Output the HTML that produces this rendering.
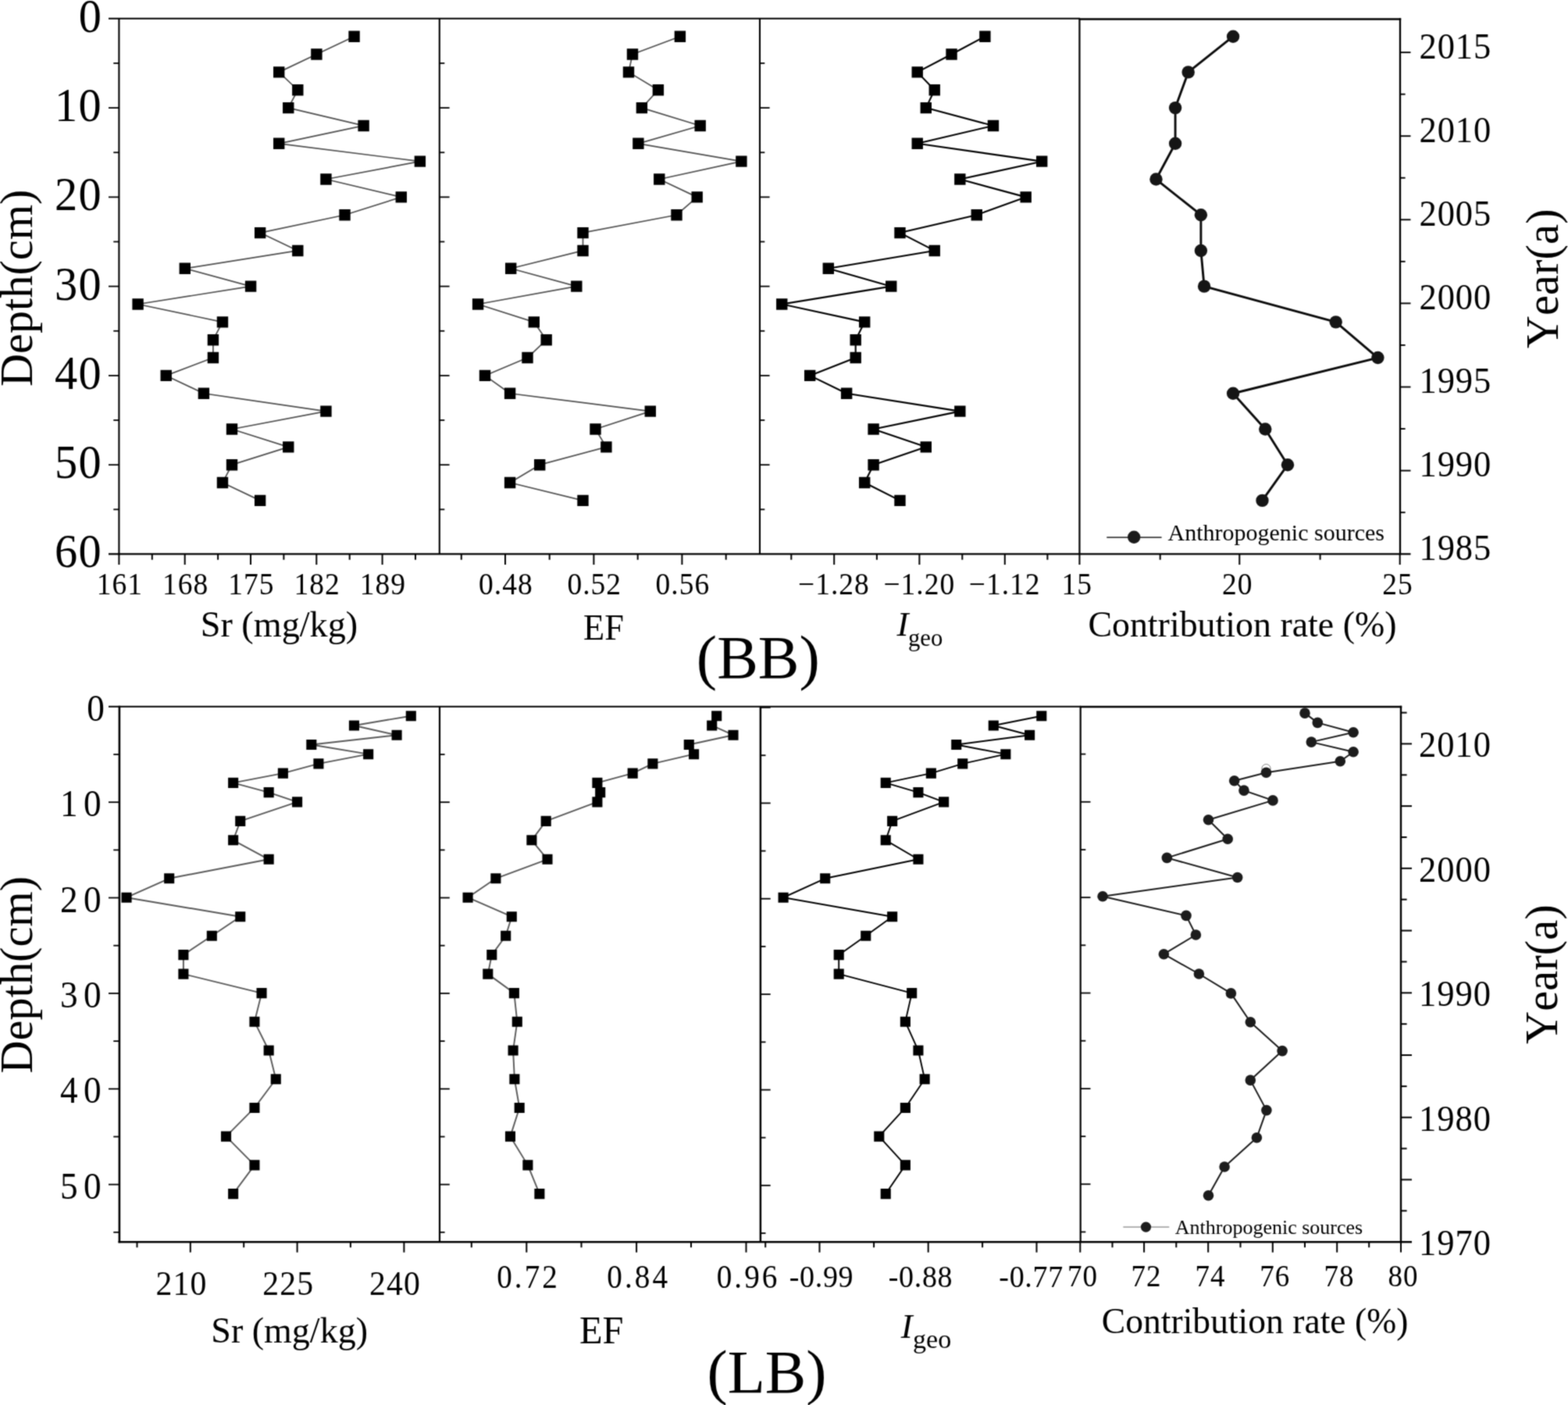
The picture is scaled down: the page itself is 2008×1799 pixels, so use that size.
<!DOCTYPE html>
<html lang="en">
<head>
<meta charset="utf-8">
<title>Sr depth profiles (BB, LB)</title>
<style>
html,body{margin:0;padding:0;background:#fff;}
body{width:2008px;height:1799px;overflow:hidden;}
svg{display:block;}
svg text{font-family:"Liberation Serif","DejaVu Serif",serif;fill:#000;font-kerning:none;white-space:pre;}
</style>
</head>
<body>
<svg width="2008" height="1799" viewBox="0 0 2008 1799">
<defs><filter id="soft" x="0" y="0" width="2008" height="1799" filterUnits="userSpaceOnUse" color-interpolation-filters="sRGB"><feConvolveMatrix order="3" kernelMatrix="0.0361 0.1178 0.0361 0.1178 0.3846 0.1178 0.0361 0.1178 0.0361" divisor="1" edgeMode="duplicate" preserveAlpha="true"/></filter></defs>
<g filter="url(#soft)">
<rect x="0" y="0" width="2008" height="1799" fill="#fff"/>
<g id="bb-axes">
<line x1="139" y1="23.85" x2="1383" y2="23.85" stroke="#000" stroke-width="2"/>
<line x1="1382" y1="24.5" x2="1794.2" y2="24.5" stroke="#000" stroke-width="2.6"/>
<line x1="139" y1="709.45" x2="1806.5" y2="709.45" stroke="#000" stroke-width="2.2"/>
<line x1="152.4" y1="22.95" x2="152.4" y2="710.35" stroke="#000" stroke-width="2.1"/>
<line x1="562.8" y1="23.85" x2="562.8" y2="709.45" stroke="#000" stroke-width="2.1"/>
<line x1="973" y1="23.85" x2="973" y2="709.45" stroke="#000" stroke-width="2.1"/>
<line x1="1382.45" y1="23.85" x2="1382.45" y2="709.45" stroke="#000" stroke-width="2.2"/>
<line x1="1793" y1="23.25" x2="1793" y2="710.35" stroke="#000" stroke-width="2.3"/>
<line x1="139" y1="138.1" x2="152.4" y2="138.1" stroke="#000" stroke-width="1.8"/>
<line x1="139" y1="252.37" x2="152.4" y2="252.37" stroke="#000" stroke-width="1.8"/>
<line x1="139" y1="366.64" x2="152.4" y2="366.64" stroke="#000" stroke-width="1.8"/>
<line x1="139" y1="480.91" x2="152.4" y2="480.91" stroke="#000" stroke-width="1.8"/>
<line x1="139" y1="595.18" x2="152.4" y2="595.18" stroke="#000" stroke-width="1.8"/>
<line x1="145.3" y1="80.97" x2="152.4" y2="80.97" stroke="#000" stroke-width="1.8"/>
<line x1="145.3" y1="195.24" x2="152.4" y2="195.24" stroke="#000" stroke-width="1.8"/>
<line x1="145.3" y1="309.5" x2="152.4" y2="309.5" stroke="#000" stroke-width="1.8"/>
<line x1="145.3" y1="423.77" x2="152.4" y2="423.77" stroke="#000" stroke-width="1.8"/>
<line x1="145.3" y1="538.05" x2="152.4" y2="538.05" stroke="#000" stroke-width="1.8"/>
<line x1="145.3" y1="652.32" x2="152.4" y2="652.32" stroke="#000" stroke-width="1.8"/>
<line x1="563" y1="138.1" x2="575.6" y2="138.1" stroke="#000" stroke-width="1.8"/>
<line x1="563" y1="252.37" x2="575.6" y2="252.37" stroke="#000" stroke-width="1.8"/>
<line x1="563" y1="366.64" x2="575.6" y2="366.64" stroke="#000" stroke-width="1.8"/>
<line x1="563" y1="480.91" x2="575.6" y2="480.91" stroke="#000" stroke-width="1.8"/>
<line x1="563" y1="595.18" x2="575.6" y2="595.18" stroke="#000" stroke-width="1.8"/>
<line x1="563" y1="80.97" x2="569.3" y2="80.97" stroke="#000" stroke-width="1.8"/>
<line x1="563" y1="195.24" x2="569.3" y2="195.24" stroke="#000" stroke-width="1.8"/>
<line x1="563" y1="309.5" x2="569.3" y2="309.5" stroke="#000" stroke-width="1.8"/>
<line x1="563" y1="423.77" x2="569.3" y2="423.77" stroke="#000" stroke-width="1.8"/>
<line x1="563" y1="538.05" x2="569.3" y2="538.05" stroke="#000" stroke-width="1.8"/>
<line x1="563" y1="652.32" x2="569.3" y2="652.32" stroke="#000" stroke-width="1.8"/>
<line x1="973" y1="138.1" x2="985.6" y2="138.1" stroke="#000" stroke-width="1.8"/>
<line x1="973" y1="252.37" x2="985.6" y2="252.37" stroke="#000" stroke-width="1.8"/>
<line x1="973" y1="366.64" x2="985.6" y2="366.64" stroke="#000" stroke-width="1.8"/>
<line x1="973" y1="480.91" x2="985.6" y2="480.91" stroke="#000" stroke-width="1.8"/>
<line x1="973" y1="595.18" x2="985.6" y2="595.18" stroke="#000" stroke-width="1.8"/>
<line x1="973" y1="80.97" x2="979.3" y2="80.97" stroke="#000" stroke-width="1.8"/>
<line x1="973" y1="195.24" x2="979.3" y2="195.24" stroke="#000" stroke-width="1.8"/>
<line x1="973" y1="309.5" x2="979.3" y2="309.5" stroke="#000" stroke-width="1.8"/>
<line x1="973" y1="423.77" x2="979.3" y2="423.77" stroke="#000" stroke-width="1.8"/>
<line x1="973" y1="538.05" x2="979.3" y2="538.05" stroke="#000" stroke-width="1.8"/>
<line x1="973" y1="652.32" x2="979.3" y2="652.32" stroke="#000" stroke-width="1.8"/>
<line x1="1793" y1="602.6" x2="1806.5" y2="602.6" stroke="#000" stroke-width="1.9"/>
<line x1="1793" y1="495.5" x2="1806.5" y2="495.5" stroke="#000" stroke-width="1.9"/>
<line x1="1793" y1="388.4" x2="1806.5" y2="388.4" stroke="#000" stroke-width="1.9"/>
<line x1="1793" y1="281.3" x2="1806.5" y2="281.3" stroke="#000" stroke-width="1.9"/>
<line x1="1793" y1="174.2" x2="1806.5" y2="174.2" stroke="#000" stroke-width="1.9"/>
<line x1="1793" y1="67.1" x2="1806.5" y2="67.1" stroke="#000" stroke-width="1.9"/>
<line x1="1793" y1="120.65" x2="1799.6" y2="120.65" stroke="#000" stroke-width="1.9"/>
<line x1="1793" y1="227.75" x2="1799.6" y2="227.75" stroke="#000" stroke-width="1.9"/>
<line x1="1793" y1="334.85" x2="1799.6" y2="334.85" stroke="#000" stroke-width="1.9"/>
<line x1="1793" y1="441.95" x2="1799.6" y2="441.95" stroke="#000" stroke-width="1.9"/>
<line x1="1793" y1="549.05" x2="1799.6" y2="549.05" stroke="#000" stroke-width="1.9"/>
<line x1="1793" y1="656.15" x2="1799.6" y2="656.15" stroke="#000" stroke-width="1.9"/>
<line x1="152.4" y1="709.45" x2="152.4" y2="723.05" stroke="#000" stroke-width="2"/>
<line x1="236.7" y1="709.45" x2="236.7" y2="723.05" stroke="#000" stroke-width="2"/>
<line x1="321" y1="709.45" x2="321" y2="723.05" stroke="#000" stroke-width="2"/>
<line x1="405.3" y1="709.45" x2="405.3" y2="723.05" stroke="#000" stroke-width="2"/>
<line x1="489.6" y1="709.45" x2="489.6" y2="723.05" stroke="#000" stroke-width="2"/>
<line x1="647" y1="709.45" x2="647" y2="723.05" stroke="#000" stroke-width="2"/>
<line x1="760.4" y1="709.45" x2="760.4" y2="723.05" stroke="#000" stroke-width="2"/>
<line x1="873.4" y1="709.45" x2="873.4" y2="723.05" stroke="#000" stroke-width="2"/>
<line x1="1068.2" y1="709.45" x2="1068.2" y2="723.05" stroke="#000" stroke-width="2"/>
<line x1="1177.4" y1="709.45" x2="1177.4" y2="723.05" stroke="#000" stroke-width="2"/>
<line x1="1286.8" y1="709.45" x2="1286.8" y2="723.05" stroke="#000" stroke-width="2"/>
<line x1="1382.45" y1="709.45" x2="1382.45" y2="723.05" stroke="#000" stroke-width="2"/>
<line x1="1587.3" y1="709.45" x2="1587.3" y2="723.05" stroke="#000" stroke-width="2"/>
<line x1="1792.7" y1="709.45" x2="1792.7" y2="723.05" stroke="#000" stroke-width="2"/>
<line x1="194.8" y1="709.45" x2="194.8" y2="716.75" stroke="#000" stroke-width="2"/>
<line x1="279.1" y1="709.45" x2="279.1" y2="716.75" stroke="#000" stroke-width="2"/>
<line x1="363.4" y1="709.45" x2="363.4" y2="716.75" stroke="#000" stroke-width="2"/>
<line x1="447.7" y1="709.45" x2="447.7" y2="716.75" stroke="#000" stroke-width="2"/>
<line x1="532" y1="709.45" x2="532" y2="716.75" stroke="#000" stroke-width="2"/>
<line x1="590.8" y1="709.45" x2="590.8" y2="716.75" stroke="#000" stroke-width="2"/>
<line x1="703.7" y1="709.45" x2="703.7" y2="716.75" stroke="#000" stroke-width="2"/>
<line x1="816.7" y1="709.45" x2="816.7" y2="716.75" stroke="#000" stroke-width="2"/>
<line x1="929.7" y1="709.45" x2="929.7" y2="716.75" stroke="#000" stroke-width="2"/>
<line x1="1013.3" y1="709.45" x2="1013.3" y2="716.75" stroke="#000" stroke-width="2"/>
<line x1="1122.9" y1="709.45" x2="1122.9" y2="716.75" stroke="#000" stroke-width="2"/>
<line x1="1232.3" y1="709.45" x2="1232.3" y2="716.75" stroke="#000" stroke-width="2"/>
<line x1="1341.4" y1="709.45" x2="1341.4" y2="716.75" stroke="#000" stroke-width="2"/>
<line x1="1485.7" y1="709.45" x2="1485.7" y2="716.75" stroke="#000" stroke-width="2"/>
<line x1="1690.6" y1="709.45" x2="1690.6" y2="716.75" stroke="#000" stroke-width="2"/>
</g>
<g id="bb-data">
<polyline points="453.57,46.68 405.4,69.54 357.23,92.39 381.32,115.25 369.27,138.1 465.62,160.95 357.23,183.81 537.88,206.66 417.45,229.52 513.79,252.37 441.53,275.22 333.14,298.08 381.32,320.93 236.8,343.79 321.1,366.64 176.59,389.49 284.97,412.35 272.93,435.2 272.93,458.06 212.72,480.91 260.89,503.76 417.45,526.62 297.02,549.47 369.27,572.33 297.02,595.18 284.97,618.03 333.14,640.89" fill="none" stroke="#4e4e4e" stroke-width="1.7" stroke-linejoin="round"/>
<path d="M446.38 39.48h14.4v14.4h-14.4zM398.2 62.34h14.4v14.4h-14.4zM350.03 85.19h14.4v14.4h-14.4zM374.12 108.05h14.4v14.4h-14.4zM362.07 130.9h14.4v14.4h-14.4zM458.42 153.75h14.4v14.4h-14.4zM350.03 176.61h14.4v14.4h-14.4zM530.68 199.46h14.4v14.4h-14.4zM410.25 222.32h14.4v14.4h-14.4zM506.59 245.17h14.4v14.4h-14.4zM434.33 268.02h14.4v14.4h-14.4zM325.94 290.88h14.4v14.4h-14.4zM374.12 313.73h14.4v14.4h-14.4zM229.6 336.59h14.4v14.4h-14.4zM313.9 359.44h14.4v14.4h-14.4zM169.39 382.29h14.4v14.4h-14.4zM277.77 405.15h14.4v14.4h-14.4zM265.73 428h14.4v14.4h-14.4zM265.73 450.86h14.4v14.4h-14.4zM205.52 473.71h14.4v14.4h-14.4zM253.69 496.56h14.4v14.4h-14.4zM410.25 519.42h14.4v14.4h-14.4zM289.82 542.27h14.4v14.4h-14.4zM362.07 565.13h14.4v14.4h-14.4zM289.82 587.98h14.4v14.4h-14.4zM277.77 610.83h14.4v14.4h-14.4zM325.94 633.69h14.4v14.4h-14.4z" fill="#000"/>
<polyline points="870.9,46.68 810,69.54 805,92.39 842.9,115.25 821.9,138.1 896.7,160.95 817.4,183.81 949.4,206.66 844.3,229.52 892.7,252.37 866.5,275.22 746.5,298.08 746.5,320.93 654.2,343.79 738.3,366.64 612.1,389.49 683.8,412.35 699.7,435.2 675.5,458.06 621,480.91 653.1,503.76 832.8,526.62 762.5,549.47 776.4,572.33 691.2,595.18 653.1,618.03 746.5,640.89" fill="none" stroke="#4e4e4e" stroke-width="1.7" stroke-linejoin="round"/>
<path d="M863.7 39.48h14.4v14.4h-14.4zM802.8 62.34h14.4v14.4h-14.4zM797.8 85.19h14.4v14.4h-14.4zM835.7 108.05h14.4v14.4h-14.4zM814.7 130.9h14.4v14.4h-14.4zM889.5 153.75h14.4v14.4h-14.4zM810.2 176.61h14.4v14.4h-14.4zM942.2 199.46h14.4v14.4h-14.4zM837.1 222.32h14.4v14.4h-14.4zM885.5 245.17h14.4v14.4h-14.4zM859.3 268.02h14.4v14.4h-14.4zM739.3 290.88h14.4v14.4h-14.4zM739.3 313.73h14.4v14.4h-14.4zM647 336.59h14.4v14.4h-14.4zM731.1 359.44h14.4v14.4h-14.4zM604.9 382.29h14.4v14.4h-14.4zM676.6 405.15h14.4v14.4h-14.4zM692.5 428h14.4v14.4h-14.4zM668.3 450.86h14.4v14.4h-14.4zM613.8 473.71h14.4v14.4h-14.4zM645.9 496.56h14.4v14.4h-14.4zM825.6 519.42h14.4v14.4h-14.4zM755.3 542.27h14.4v14.4h-14.4zM769.2 565.13h14.4v14.4h-14.4zM684 587.98h14.4v14.4h-14.4zM645.9 610.83h14.4v14.4h-14.4zM739.3 633.69h14.4v14.4h-14.4z" fill="#000"/>
<polyline points="1261.4,46.68 1218.56,69.54 1174.76,92.39 1196.78,115.25 1185.8,138.1 1271.97,160.95 1174.76,183.81 1334.21,206.66 1229.36,229.52 1313.68,252.37 1250.78,275.22 1152.49,298.08 1196.78,320.93 1060.81,343.79 1141.26,366.64 1001.27,389.49 1107.19,412.35 1095.7,435.2 1095.7,458.06 1037.21,480.91 1084.14,503.76 1229.36,526.62 1118.61,549.47 1185.8,572.33 1118.61,595.18 1107.19,618.03 1152.49,640.89" fill="none" stroke="#000" stroke-width="2.1" stroke-linejoin="round"/>
<path d="M1254.2 39.48h14.4v14.4h-14.4zM1211.36 62.34h14.4v14.4h-14.4zM1167.56 85.19h14.4v14.4h-14.4zM1189.58 108.05h14.4v14.4h-14.4zM1178.6 130.9h14.4v14.4h-14.4zM1264.77 153.75h14.4v14.4h-14.4zM1167.56 176.61h14.4v14.4h-14.4zM1327.01 199.46h14.4v14.4h-14.4zM1222.16 222.32h14.4v14.4h-14.4zM1306.48 245.17h14.4v14.4h-14.4zM1243.58 268.02h14.4v14.4h-14.4zM1145.29 290.88h14.4v14.4h-14.4zM1189.58 313.73h14.4v14.4h-14.4zM1053.61 336.59h14.4v14.4h-14.4zM1134.06 359.44h14.4v14.4h-14.4zM994.07 382.29h14.4v14.4h-14.4zM1099.99 405.15h14.4v14.4h-14.4zM1088.5 428h14.4v14.4h-14.4zM1088.5 450.86h14.4v14.4h-14.4zM1030.01 473.71h14.4v14.4h-14.4zM1076.94 496.56h14.4v14.4h-14.4zM1222.16 519.42h14.4v14.4h-14.4zM1111.41 542.27h14.4v14.4h-14.4zM1178.6 565.13h14.4v14.4h-14.4zM1111.41 587.98h14.4v14.4h-14.4zM1099.99 610.83h14.4v14.4h-14.4zM1145.29 633.69h14.4v14.4h-14.4z" fill="#000"/>
<polyline points="1579.1,46.68 1521.7,92.39 1505.1,138.1 1505.1,183.81 1480.5,229.52 1537.9,275.22 1537.9,320.93 1542.1,366.64 1710.7,412.35 1764.4,458.06 1579.1,503.76 1620.3,549.47 1649,595.18 1616.5,640.89" fill="none" stroke="#0a0a0a" stroke-width="2.9" stroke-linejoin="round"/>
<circle cx="1579.1" cy="46.68" r="8.2" fill="#151515"/>
<circle cx="1521.7" cy="92.39" r="8.2" fill="#151515"/>
<circle cx="1505.1" cy="138.1" r="8.2" fill="#151515"/>
<circle cx="1505.1" cy="183.81" r="8.2" fill="#151515"/>
<circle cx="1480.5" cy="229.52" r="8.2" fill="#151515"/>
<circle cx="1537.9" cy="275.22" r="8.2" fill="#151515"/>
<circle cx="1537.9" cy="320.93" r="8.2" fill="#151515"/>
<circle cx="1542.1" cy="366.64" r="8.2" fill="#151515"/>
<circle cx="1710.7" cy="412.35" r="8.2" fill="#151515"/>
<circle cx="1764.4" cy="458.06" r="8.2" fill="#151515"/>
<circle cx="1579.1" cy="503.76" r="8.2" fill="#151515"/>
<circle cx="1620.3" cy="549.47" r="8.2" fill="#151515"/>
<circle cx="1649" cy="595.18" r="8.2" fill="#151515"/>
<circle cx="1616.5" cy="640.89" r="8.2" fill="#151515"/>
<line x1="1417.3" y1="688.1" x2="1487.6" y2="688.1" stroke="#3a3a3a" stroke-width="1.9"/>
<circle cx="1452.2" cy="687.8" r="8.2" fill="#1a1a1a"/>
<text x="1495.53" y="692.4" font-size="30">Anthropogenic sources</text>
</g>
<g id="bb-labels">
<text transform="translate(100.64 40.83) scale(0.95 1)" font-size="61.5" letter-spacing="1.45">0</text>
<text transform="translate(69.89 155.1) scale(0.95 1)" font-size="61.5" letter-spacing="1.45">10</text>
<text transform="translate(69.89 269.37) scale(0.95 1)" font-size="61.5" letter-spacing="1.45">20</text>
<text transform="translate(69.89 383.64) scale(0.95 1)" font-size="61.5" letter-spacing="1.45">30</text>
<text transform="translate(69.89 497.91) scale(0.95 1)" font-size="61.5" letter-spacing="1.45">40</text>
<text transform="translate(69.89 612.18) scale(0.95 1)" font-size="61.5" letter-spacing="1.45">50</text>
<text transform="translate(69.89 726.45) scale(0.95 1)" font-size="61.5" letter-spacing="1.45">60</text>
<text transform="translate(41.4 495.02) rotate(-90)" font-size="58.3">Depth(cm)</text>
<text transform="translate(1817.46 717.2) scale(0.96 1)" font-size="46.4" letter-spacing="0.97">1985</text>
<text transform="translate(1817.46 610.1) scale(0.96 1)" font-size="46.4" letter-spacing="0.97">1990</text>
<text transform="translate(1817.46 503) scale(0.96 1)" font-size="46.4" letter-spacing="0.97">1995</text>
<text transform="translate(1817.46 395.9) scale(0.96 1)" font-size="46.4" letter-spacing="0.97">2000</text>
<text transform="translate(1817.46 288.8) scale(0.96 1)" font-size="46.4" letter-spacing="0.97">2005</text>
<text transform="translate(1817.46 181.7) scale(0.96 1)" font-size="46.4" letter-spacing="0.97">2010</text>
<text transform="translate(1817.46 74.6) scale(0.96 1)" font-size="46.4" letter-spacing="0.97">2015</text>
<text transform="translate(1995 446.34) rotate(-90)" font-size="58.6">Year(a)</text>
<text transform="translate(123.67 761.4) scale(0.95 1)" font-size="39.5" letter-spacing="1.04">161</text>
<text transform="translate(207.97 761.4) scale(0.95 1)" font-size="39.5" letter-spacing="1.04">168</text>
<text transform="translate(292.27 761.4) scale(0.95 1)" font-size="39.5" letter-spacing="1.04">175</text>
<text transform="translate(376.57 761.4) scale(0.95 1)" font-size="39.5" letter-spacing="1.04">182</text>
<text transform="translate(460.87 761.4) scale(0.95 1)" font-size="39.5" letter-spacing="1.04">189</text>
<text transform="translate(613.03 761.4) scale(0.95 1)" font-size="39.5" letter-spacing="1.04">0.48</text>
<text transform="translate(726.43 761.4) scale(0.95 1)" font-size="39.5" letter-spacing="1.04">0.52</text>
<text transform="translate(839.53 761.4) scale(0.95 1)" font-size="39.5" letter-spacing="1.04">0.56</text>
<text transform="translate(1022.09 761.4) scale(0.95 1)" font-size="39.5" letter-spacing="1.04">−1.28</text>
<text transform="translate(1131.39 761.4) scale(0.95 1)" font-size="39.5" letter-spacing="1.04">−1.20</text>
<text transform="translate(1240.79 761.4) scale(0.95 1)" font-size="39.5" letter-spacing="1.04">−1.12</text>
<text transform="translate(1359.44 761.4) scale(0.95 1)" font-size="39.5" letter-spacing="1.04">15</text>
<text transform="translate(1565.04 761.4) scale(0.95 1)" font-size="39.5" letter-spacing="1.04">20</text>
<text transform="translate(1770.24 761.4) scale(0.95 1)" font-size="39.5" letter-spacing="1.04">25</text>
<text x="256.73" y="814.5" font-size="46.2">Sr (mg/kg)</text>
<text transform="translate(747.07 819.3) scale(0.9563 1)" font-size="46.4">EF</text>
<text><tspan x="1148.62" y="814" font-size="45" font-style="italic">I</tspan><tspan x="1162.96" y="827" font-size="30.7">geo</tspan></text>
<text x="1393.39" y="814.5" font-size="45.9">Contribution rate (%)</text>
<text x="891.85" y="868" font-size="79">(BB)</text>
</g>
<g id="lb-axes">
<line x1="139" y1="904.7" x2="1384" y2="904.7" stroke="#000" stroke-width="2"/>
<line x1="1383" y1="905" x2="1795.2" y2="905" stroke="#000" stroke-width="2.5"/>
<line x1="151.5" y1="1590.2" x2="1384" y2="1590.2" stroke="#000" stroke-width="2.4"/>
<line x1="1383" y1="1590.2" x2="1808" y2="1590.2" stroke="#000" stroke-width="2.5"/>
<line x1="152.9" y1="903.8" x2="152.9" y2="1591.3" stroke="#000" stroke-width="2.6"/>
<line x1="563" y1="904.7" x2="563" y2="1590.2" stroke="#000" stroke-width="2.2"/>
<line x1="973.9" y1="904.7" x2="973.9" y2="1590.2" stroke="#000" stroke-width="2.5"/>
<line x1="1383.7" y1="904.7" x2="1383.7" y2="1590.2" stroke="#000" stroke-width="2.2"/>
<line x1="1794" y1="903.8" x2="1794" y2="1591.2" stroke="#000" stroke-width="2.4"/>
<line x1="139" y1="1027.17" x2="152.4" y2="1027.17" stroke="#000" stroke-width="1.8"/>
<line x1="139" y1="1149.54" x2="152.4" y2="1149.54" stroke="#000" stroke-width="1.8"/>
<line x1="139" y1="1271.91" x2="152.4" y2="1271.91" stroke="#000" stroke-width="1.8"/>
<line x1="139" y1="1394.28" x2="152.4" y2="1394.28" stroke="#000" stroke-width="1.8"/>
<line x1="139" y1="1516.65" x2="152.4" y2="1516.65" stroke="#000" stroke-width="1.8"/>
<line x1="145.3" y1="965.98" x2="152.4" y2="965.98" stroke="#000" stroke-width="1.8"/>
<line x1="145.3" y1="1088.36" x2="152.4" y2="1088.36" stroke="#000" stroke-width="1.8"/>
<line x1="145.3" y1="1210.72" x2="152.4" y2="1210.72" stroke="#000" stroke-width="1.8"/>
<line x1="145.3" y1="1333.1" x2="152.4" y2="1333.1" stroke="#000" stroke-width="1.8"/>
<line x1="145.3" y1="1455.46" x2="152.4" y2="1455.46" stroke="#000" stroke-width="1.8"/>
<line x1="145.3" y1="1577.84" x2="152.4" y2="1577.84" stroke="#000" stroke-width="1.8"/>
<line x1="563" y1="1027.17" x2="575.8" y2="1027.17" stroke="#000" stroke-width="1.8"/>
<line x1="563" y1="1149.54" x2="575.8" y2="1149.54" stroke="#000" stroke-width="1.8"/>
<line x1="563" y1="1271.91" x2="575.8" y2="1271.91" stroke="#000" stroke-width="1.8"/>
<line x1="563" y1="1394.28" x2="575.8" y2="1394.28" stroke="#000" stroke-width="1.8"/>
<line x1="563" y1="1516.65" x2="575.8" y2="1516.65" stroke="#000" stroke-width="1.8"/>
<line x1="563" y1="965.98" x2="569.6" y2="965.98" stroke="#000" stroke-width="1.8"/>
<line x1="563" y1="1088.36" x2="569.6" y2="1088.36" stroke="#000" stroke-width="1.8"/>
<line x1="563" y1="1210.72" x2="569.6" y2="1210.72" stroke="#000" stroke-width="1.8"/>
<line x1="563" y1="1333.1" x2="569.6" y2="1333.1" stroke="#000" stroke-width="1.8"/>
<line x1="563" y1="1455.46" x2="569.6" y2="1455.46" stroke="#000" stroke-width="1.8"/>
<line x1="563" y1="1577.84" x2="569.6" y2="1577.84" stroke="#000" stroke-width="1.8"/>
<line x1="973.9" y1="1028.37" x2="986.7" y2="1028.37" stroke="#000" stroke-width="1.8"/>
<line x1="973.9" y1="1150.74" x2="986.7" y2="1150.74" stroke="#000" stroke-width="1.8"/>
<line x1="973.9" y1="1273.11" x2="986.7" y2="1273.11" stroke="#000" stroke-width="1.8"/>
<line x1="973.9" y1="1395.48" x2="986.7" y2="1395.48" stroke="#000" stroke-width="1.8"/>
<line x1="973.9" y1="1517.85" x2="986.7" y2="1517.85" stroke="#000" stroke-width="1.8"/>
<line x1="973.9" y1="967.18" x2="980.5" y2="967.18" stroke="#000" stroke-width="1.8"/>
<line x1="973.9" y1="1089.56" x2="980.5" y2="1089.56" stroke="#000" stroke-width="1.8"/>
<line x1="973.9" y1="1211.92" x2="980.5" y2="1211.92" stroke="#000" stroke-width="1.8"/>
<line x1="973.9" y1="1334.3" x2="980.5" y2="1334.3" stroke="#000" stroke-width="1.8"/>
<line x1="973.9" y1="1456.66" x2="980.5" y2="1456.66" stroke="#000" stroke-width="1.8"/>
<line x1="973.9" y1="1579.04" x2="980.5" y2="1579.04" stroke="#000" stroke-width="1.8"/>
<line x1="1383.7" y1="1026.77" x2="1396.5" y2="1026.77" stroke="#000" stroke-width="1.8"/>
<line x1="1383.7" y1="1149.14" x2="1396.5" y2="1149.14" stroke="#000" stroke-width="1.8"/>
<line x1="1383.7" y1="1271.51" x2="1396.5" y2="1271.51" stroke="#000" stroke-width="1.8"/>
<line x1="1383.7" y1="1393.88" x2="1396.5" y2="1393.88" stroke="#000" stroke-width="1.8"/>
<line x1="1383.7" y1="1516.25" x2="1396.5" y2="1516.25" stroke="#000" stroke-width="1.8"/>
<line x1="1383.7" y1="965.58" x2="1390.3" y2="965.58" stroke="#000" stroke-width="1.8"/>
<line x1="1383.7" y1="1087.95" x2="1390.3" y2="1087.95" stroke="#000" stroke-width="1.8"/>
<line x1="1383.7" y1="1210.32" x2="1390.3" y2="1210.32" stroke="#000" stroke-width="1.8"/>
<line x1="1383.7" y1="1332.69" x2="1390.3" y2="1332.69" stroke="#000" stroke-width="1.8"/>
<line x1="1383.7" y1="1455.06" x2="1390.3" y2="1455.06" stroke="#000" stroke-width="1.8"/>
<line x1="1383.7" y1="1577.43" x2="1390.3" y2="1577.43" stroke="#000" stroke-width="1.8"/>
<line x1="973.9" y1="906" x2="986.7" y2="906" stroke="#000" stroke-width="1.6"/>
<line x1="1794" y1="1510.47" x2="1808" y2="1510.47" stroke="#000" stroke-width="2"/>
<line x1="1794" y1="1430.75" x2="1808" y2="1430.75" stroke="#000" stroke-width="2"/>
<line x1="1794" y1="1351.03" x2="1808" y2="1351.03" stroke="#000" stroke-width="2"/>
<line x1="1794" y1="1271.3" x2="1808" y2="1271.3" stroke="#000" stroke-width="2"/>
<line x1="1794" y1="1191.58" x2="1808" y2="1191.58" stroke="#000" stroke-width="2"/>
<line x1="1794" y1="1111.85" x2="1808" y2="1111.85" stroke="#000" stroke-width="2"/>
<line x1="1794" y1="1032.12" x2="1808" y2="1032.12" stroke="#000" stroke-width="2"/>
<line x1="1794" y1="952.4" x2="1808" y2="952.4" stroke="#000" stroke-width="2"/>
<line x1="1794" y1="912.54" x2="1801.6" y2="912.54" stroke="#000" stroke-width="2"/>
<line x1="1794" y1="992.26" x2="1801.6" y2="992.26" stroke="#000" stroke-width="2"/>
<line x1="1794" y1="1071.99" x2="1801.6" y2="1071.99" stroke="#000" stroke-width="2"/>
<line x1="1794" y1="1151.71" x2="1801.6" y2="1151.71" stroke="#000" stroke-width="2"/>
<line x1="1794" y1="1231.44" x2="1801.6" y2="1231.44" stroke="#000" stroke-width="2"/>
<line x1="1794" y1="1311.16" x2="1801.6" y2="1311.16" stroke="#000" stroke-width="2"/>
<line x1="1794" y1="1390.89" x2="1801.6" y2="1390.89" stroke="#000" stroke-width="2"/>
<line x1="1794" y1="1470.61" x2="1801.6" y2="1470.61" stroke="#000" stroke-width="2"/>
<line x1="1794" y1="1550.34" x2="1801.6" y2="1550.34" stroke="#000" stroke-width="2"/>
<line x1="243.8" y1="1590.2" x2="243.8" y2="1603.6" stroke="#000" stroke-width="2"/>
<line x1="380.6" y1="1590.2" x2="380.6" y2="1603.6" stroke="#000" stroke-width="2"/>
<line x1="517.4" y1="1590.2" x2="517.4" y2="1603.6" stroke="#000" stroke-width="2"/>
<line x1="674.3" y1="1590.2" x2="674.3" y2="1603.6" stroke="#000" stroke-width="2"/>
<line x1="815.1" y1="1590.2" x2="815.1" y2="1603.6" stroke="#000" stroke-width="2"/>
<line x1="955.5" y1="1590.2" x2="955.5" y2="1603.6" stroke="#000" stroke-width="2"/>
<line x1="1049.5" y1="1590.2" x2="1049.5" y2="1603.6" stroke="#000" stroke-width="2"/>
<line x1="1188.7" y1="1590.2" x2="1188.7" y2="1603.6" stroke="#000" stroke-width="2"/>
<line x1="1327.5" y1="1590.2" x2="1327.5" y2="1603.6" stroke="#000" stroke-width="2"/>
<line x1="1383.3" y1="1590.2" x2="1383.3" y2="1603.6" stroke="#000" stroke-width="2"/>
<line x1="1465.1" y1="1590.2" x2="1465.1" y2="1603.6" stroke="#000" stroke-width="2"/>
<line x1="1547.2" y1="1590.2" x2="1547.2" y2="1603.6" stroke="#000" stroke-width="2"/>
<line x1="1629.8" y1="1590.2" x2="1629.8" y2="1603.6" stroke="#000" stroke-width="2"/>
<line x1="1712.2" y1="1590.2" x2="1712.2" y2="1603.6" stroke="#000" stroke-width="2"/>
<line x1="1794" y1="1590.2" x2="1794" y2="1603.6" stroke="#000" stroke-width="2"/>
<line x1="175.5" y1="1590.2" x2="175.5" y2="1597.3" stroke="#000" stroke-width="2"/>
<line x1="312.2" y1="1590.2" x2="312.2" y2="1597.3" stroke="#000" stroke-width="2"/>
<line x1="448.9" y1="1590.2" x2="448.9" y2="1597.3" stroke="#000" stroke-width="2"/>
<line x1="603.8" y1="1590.2" x2="603.8" y2="1597.3" stroke="#000" stroke-width="2"/>
<line x1="744.5" y1="1590.2" x2="744.5" y2="1597.3" stroke="#000" stroke-width="2"/>
<line x1="885" y1="1590.2" x2="885" y2="1597.3" stroke="#000" stroke-width="2"/>
<line x1="980.2" y1="1590.2" x2="980.2" y2="1597.3" stroke="#000" stroke-width="2"/>
<line x1="1119.1" y1="1590.2" x2="1119.1" y2="1597.3" stroke="#000" stroke-width="2"/>
<line x1="1258.1" y1="1590.2" x2="1258.1" y2="1597.3" stroke="#000" stroke-width="2"/>
<line x1="1424.5" y1="1590.2" x2="1424.5" y2="1597.3" stroke="#000" stroke-width="2"/>
<line x1="1506.3" y1="1590.2" x2="1506.3" y2="1597.3" stroke="#000" stroke-width="2"/>
<line x1="1588.5" y1="1590.2" x2="1588.5" y2="1597.3" stroke="#000" stroke-width="2"/>
<line x1="1671" y1="1590.2" x2="1671" y2="1597.3" stroke="#000" stroke-width="2"/>
<line x1="1753.2" y1="1590.2" x2="1753.2" y2="1597.3" stroke="#000" stroke-width="2"/>
</g>
<g id="lb-data">
<polyline points="526.32,916.74 453.46,928.97 508.1,941.21 398.82,953.45 471.67,965.68 407.93,977.92 362.39,990.16 298.64,1002.4 344.18,1014.63 380.61,1026.87 307.75,1051.34 298.64,1075.82 344.18,1100.29 216.68,1124.77 162.04,1149.24 307.75,1173.71 271.32,1198.19 234.89,1222.66 234.89,1247.14 335.07,1271.61 325.96,1308.32 344.18,1345.03 353.28,1381.74 325.96,1418.45 289.53,1455.16 325.96,1491.88 298.64,1528.59" fill="none" stroke="#585858" stroke-width="1.9" stroke-linejoin="round"/>
<path d="M519.77 910.19h13.1v13.1h-13.1zM446.91 922.42h13.1v13.1h-13.1zM501.55 934.66h13.1v13.1h-13.1zM392.27 946.9h13.1v13.1h-13.1zM465.12 959.13h13.1v13.1h-13.1zM401.38 971.37h13.1v13.1h-13.1zM355.84 983.61h13.1v13.1h-13.1zM292.09 995.85h13.1v13.1h-13.1zM337.63 1008.08h13.1v13.1h-13.1zM374.06 1020.32h13.1v13.1h-13.1zM301.2 1044.79h13.1v13.1h-13.1zM292.09 1069.27h13.1v13.1h-13.1zM337.63 1093.74h13.1v13.1h-13.1zM210.13 1118.22h13.1v13.1h-13.1zM155.49 1142.69h13.1v13.1h-13.1zM301.2 1167.16h13.1v13.1h-13.1zM264.77 1191.64h13.1v13.1h-13.1zM228.34 1216.11h13.1v13.1h-13.1zM228.34 1240.59h13.1v13.1h-13.1zM328.52 1265.06h13.1v13.1h-13.1zM319.41 1301.77h13.1v13.1h-13.1zM337.63 1338.48h13.1v13.1h-13.1zM346.73 1375.19h13.1v13.1h-13.1zM319.41 1411.9h13.1v13.1h-13.1zM282.98 1448.62h13.1v13.1h-13.1zM319.41 1485.33h13.1v13.1h-13.1zM292.09 1522.04h13.1v13.1h-13.1z" fill="#000"/>
<polyline points="917.7,916.74 911.7,928.97 939,941.21 882.3,953.45 888.6,965.68 835.9,977.92 810.2,990.16 764.9,1002.4 768.7,1014.63 764.9,1026.87 699.2,1051.34 680.9,1075.82 701,1100.29 634.9,1124.77 599.1,1149.24 655.3,1173.71 647.7,1198.19 629.8,1222.66 624.8,1247.14 658.4,1271.61 662.3,1308.32 657.1,1345.03 658.9,1381.74 665.2,1418.45 653.5,1455.16 675.9,1491.88 690.9,1528.59" fill="none" stroke="#585858" stroke-width="1.9" stroke-linejoin="round"/>
<path d="M911.15 910.19h13.1v13.1h-13.1zM905.15 922.42h13.1v13.1h-13.1zM932.45 934.66h13.1v13.1h-13.1zM875.75 946.9h13.1v13.1h-13.1zM882.05 959.13h13.1v13.1h-13.1zM829.35 971.37h13.1v13.1h-13.1zM803.65 983.61h13.1v13.1h-13.1zM758.35 995.85h13.1v13.1h-13.1zM762.15 1008.08h13.1v13.1h-13.1zM758.35 1020.32h13.1v13.1h-13.1zM692.65 1044.79h13.1v13.1h-13.1zM674.35 1069.27h13.1v13.1h-13.1zM694.45 1093.74h13.1v13.1h-13.1zM628.35 1118.22h13.1v13.1h-13.1zM592.55 1142.69h13.1v13.1h-13.1zM648.75 1167.16h13.1v13.1h-13.1zM641.15 1191.64h13.1v13.1h-13.1zM623.25 1216.11h13.1v13.1h-13.1zM618.25 1240.59h13.1v13.1h-13.1zM651.85 1265.06h13.1v13.1h-13.1zM655.75 1301.77h13.1v13.1h-13.1zM650.55 1338.48h13.1v13.1h-13.1zM652.35 1375.19h13.1v13.1h-13.1zM658.65 1411.9h13.1v13.1h-13.1zM646.95 1448.62h13.1v13.1h-13.1zM669.35 1485.33h13.1v13.1h-13.1zM684.35 1522.04h13.1v13.1h-13.1z" fill="#000"/>
<polyline points="1333.8,916.74 1272.29,928.97 1318.62,941.21 1224.75,953.45 1287.86,965.68 1232.76,977.92 1192.36,990.16 1134.24,1002.4 1175.94,1014.63 1208.63,1026.87 1142.66,1051.34 1134.24,1075.82 1175.94,1100.29 1056.69,1124.77 1003.1,1149.24 1142.66,1173.71 1108.76,1198.19 1074.22,1222.66 1074.22,1247.14 1167.68,1271.61 1159.38,1308.32 1175.94,1345.03 1184.17,1381.74 1159.38,1418.45 1125.79,1455.16 1159.38,1491.88 1134.24,1528.59" fill="none" stroke="#000" stroke-width="1.9" stroke-linejoin="round"/>
<path d="M1327.25 910.19h13.1v13.1h-13.1zM1265.74 922.42h13.1v13.1h-13.1zM1312.07 934.66h13.1v13.1h-13.1zM1218.2 946.9h13.1v13.1h-13.1zM1281.31 959.13h13.1v13.1h-13.1zM1226.21 971.37h13.1v13.1h-13.1zM1185.81 983.61h13.1v13.1h-13.1zM1127.69 995.85h13.1v13.1h-13.1zM1169.39 1008.08h13.1v13.1h-13.1zM1202.08 1020.32h13.1v13.1h-13.1zM1136.11 1044.79h13.1v13.1h-13.1zM1127.69 1069.27h13.1v13.1h-13.1zM1169.39 1093.74h13.1v13.1h-13.1zM1050.14 1118.22h13.1v13.1h-13.1zM996.55 1142.69h13.1v13.1h-13.1zM1136.11 1167.16h13.1v13.1h-13.1zM1102.21 1191.64h13.1v13.1h-13.1zM1067.67 1216.11h13.1v13.1h-13.1zM1067.67 1240.59h13.1v13.1h-13.1zM1161.13 1265.06h13.1v13.1h-13.1zM1152.83 1301.77h13.1v13.1h-13.1zM1169.39 1338.48h13.1v13.1h-13.1zM1177.62 1375.19h13.1v13.1h-13.1zM1152.83 1411.9h13.1v13.1h-13.1zM1119.24 1448.62h13.1v13.1h-13.1zM1152.83 1485.33h13.1v13.1h-13.1zM1127.69 1522.04h13.1v13.1h-13.1z" fill="#000"/>
<circle cx="1621.5" cy="984.1" r="5.6" fill="none" stroke="#333" stroke-width="0.6"/>
<polyline points="1671,913.1 1687.3,925.4 1733.1,937.7 1679.3,950.1 1733.1,962.8 1716.3,974.7 1621.5,989.3 1580.7,999.8 1593,1012.1 1630,1024.9 1547.5,1049.8 1572.2,1074.2 1494.4,1098.4 1584.7,1123.5 1412.1,1147.7 1519,1172.4 1531.4,1197 1490.4,1221.7 1535.4,1247 1576.4,1271.9 1601.3,1308.7 1642.1,1345.6 1601.3,1383.1 1621.9,1421.6 1609.4,1456.8 1568.1,1494 1547.5,1530.8" fill="none" stroke="#1a1a1a" stroke-width="2" stroke-linejoin="round"/>
<circle cx="1671" cy="913.1" r="6.8" fill="#1c1c1c"/>
<circle cx="1687.3" cy="925.4" r="6.8" fill="#1c1c1c"/>
<circle cx="1733.1" cy="937.7" r="6.8" fill="#1c1c1c"/>
<circle cx="1679.3" cy="950.1" r="6.8" fill="#1c1c1c"/>
<circle cx="1733.1" cy="962.8" r="6.8" fill="#1c1c1c"/>
<circle cx="1716.3" cy="974.7" r="6.8" fill="#1c1c1c"/>
<circle cx="1621.5" cy="989.3" r="6.8" fill="#1c1c1c"/>
<circle cx="1580.7" cy="999.8" r="6.8" fill="#1c1c1c"/>
<circle cx="1593" cy="1012.1" r="6.8" fill="#1c1c1c"/>
<circle cx="1630" cy="1024.9" r="6.8" fill="#1c1c1c"/>
<circle cx="1547.5" cy="1049.8" r="6.8" fill="#1c1c1c"/>
<circle cx="1572.2" cy="1074.2" r="6.8" fill="#1c1c1c"/>
<circle cx="1494.4" cy="1098.4" r="6.8" fill="#1c1c1c"/>
<circle cx="1584.7" cy="1123.5" r="6.8" fill="#1c1c1c"/>
<circle cx="1412.1" cy="1147.7" r="6.8" fill="#1c1c1c"/>
<circle cx="1519" cy="1172.4" r="6.8" fill="#1c1c1c"/>
<circle cx="1531.4" cy="1197" r="6.8" fill="#1c1c1c"/>
<circle cx="1490.4" cy="1221.7" r="6.8" fill="#1c1c1c"/>
<circle cx="1535.4" cy="1247" r="6.8" fill="#1c1c1c"/>
<circle cx="1576.4" cy="1271.9" r="6.8" fill="#1c1c1c"/>
<circle cx="1601.3" cy="1308.7" r="6.8" fill="#1c1c1c"/>
<circle cx="1642.1" cy="1345.6" r="6.8" fill="#1c1c1c"/>
<circle cx="1601.3" cy="1383.1" r="6.8" fill="#1c1c1c"/>
<circle cx="1621.9" cy="1421.6" r="6.8" fill="#1c1c1c"/>
<circle cx="1609.4" cy="1456.8" r="6.8" fill="#1c1c1c"/>
<circle cx="1568.1" cy="1494" r="6.8" fill="#1c1c1c"/>
<circle cx="1547.5" cy="1530.8" r="6.8" fill="#1c1c1c"/>
<line x1="1438.4" y1="1571.1" x2="1497.3" y2="1571.1" stroke="#555" stroke-width="0.9"/>
<circle cx="1467.5" cy="1571.1" r="6.6" fill="#1c1c1c"/>
<text x="1504.72" y="1579.6" font-size="26">Anthropogenic sources</text>
</g>
<g id="lb-labels">
<text transform="translate(111.31 922.9) scale(0.94 1)" font-size="48.2" letter-spacing="1.4">0</text>
<text transform="translate(77.11 1045.37) scale(0.94 1)" font-size="48.2" letter-spacing="7.75">10</text>
<text transform="translate(77.11 1167.74) scale(0.94 1)" font-size="48.2" letter-spacing="7.75">20</text>
<text transform="translate(77.11 1290.11) scale(0.94 1)" font-size="48.2" letter-spacing="7.75">30</text>
<text transform="translate(77.11 1412.48) scale(0.94 1)" font-size="48.2" letter-spacing="7.75">40</text>
<text transform="translate(77.11 1534.85) scale(0.94 1)" font-size="48.2" letter-spacing="7.75">50</text>
<text transform="translate(41.4 1374.42) rotate(-90)" font-size="58.3">Depth(cm)</text>
<text transform="translate(1817.06 1607) scale(0.96 1)" font-size="46.4" letter-spacing="0.97">1970</text>
<text transform="translate(1817.06 1447.55) scale(0.96 1)" font-size="46.4" letter-spacing="0.97">1980</text>
<text transform="translate(1817.06 1288.1) scale(0.96 1)" font-size="46.4" letter-spacing="0.97">1990</text>
<text transform="translate(1817.06 1128.65) scale(0.96 1)" font-size="46.4" letter-spacing="0.97">2000</text>
<text transform="translate(1817.06 969.2) scale(0.96 1)" font-size="46.4" letter-spacing="0.97">2010</text>
<text transform="translate(1993.6 1336.99) rotate(-90)" font-size="58.6">Year(a)</text>
<text transform="translate(199.45 1658) scale(0.95 1)" font-size="44" letter-spacing="1.16">210</text>
<text transform="translate(336.35 1658) scale(0.95 1)" font-size="44" letter-spacing="1.16">225</text>
<text transform="translate(472.95 1658) scale(0.95 1)" font-size="44" letter-spacing="1.16">240</text>
<text transform="translate(636.23 1648.6) scale(0.95 1)" font-size="41.3" letter-spacing="3.19">0.72</text>
<text transform="translate(777.28 1648.6) scale(0.95 1)" font-size="41.3" letter-spacing="3.19">0.84</text>
<text transform="translate(917.73 1648.6) scale(0.95 1)" font-size="41.3" letter-spacing="3.19">0.96</text>
<text transform="translate(1010.64 1647.5) scale(0.95 1)" font-size="40" letter-spacing="0.74">-0.99</text>
<text transform="translate(1137.64 1647.5) scale(0.95 1)" font-size="40" letter-spacing="0.74">-0.88</text>
<text transform="translate(1279.29 1647.5) scale(0.95 1)" font-size="40" letter-spacing="0.74">-0.77</text>
<text transform="translate(1366.99 1647.3) scale(0.95 1)" font-size="39" letter-spacing="1.03">70</text>
<text transform="translate(1448.59 1647.3) scale(0.95 1)" font-size="39" letter-spacing="1.03">72</text>
<text transform="translate(1530.49 1647.3) scale(0.95 1)" font-size="39" letter-spacing="1.03">74</text>
<text transform="translate(1613.19 1647.3) scale(0.95 1)" font-size="39" letter-spacing="1.03">76</text>
<text transform="translate(1695.49 1647.3) scale(0.95 1)" font-size="39" letter-spacing="1.03">78</text>
<text transform="translate(1777.49 1647.3) scale(0.95 1)" font-size="39" letter-spacing="1.03">80</text>
<text x="270.37" y="1719.2" font-size="46">Sr (mg/kg)</text>
<text transform="translate(741.95 1719.6) scale(0.9501 1)" font-size="51">EF</text>
<text><tspan x="1153.81" y="1713.2" font-size="44.5" font-style="italic">I</tspan><tspan x="1169" y="1725.6" font-size="34.1">geo</tspan></text>
<text x="1410.83" y="1707" font-size="45.6">Contribution rate (%)</text>
<text x="905.56" y="1782.9" font-size="78.7">(LB)</text>
</g>
</g>
</svg>
</body>
</html>
